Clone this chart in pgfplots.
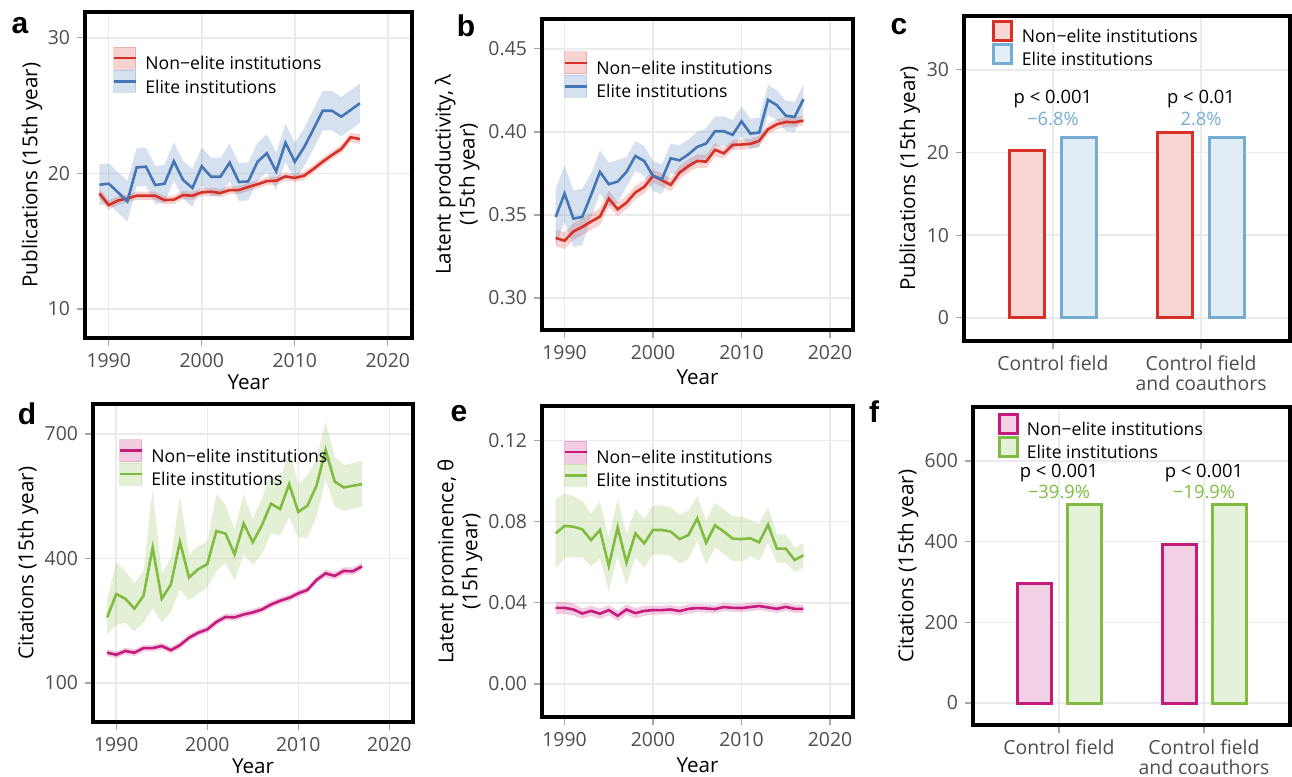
\documentclass[border=0pt]{standalone}
\usepackage{fontspec}
\setmainfont{Open Sans}
\newfontfamily\letterfont{Liberation Sans}
\usepackage{pgfplots}
\usepackage{pgfplotstable}
\pgfplotsset{compat=1.18}
\usepgfplotslibrary{fillbetween}

\definecolor{redL}{HTML}{D73027}
\definecolor{blueL}{HTML}{4575B4}
\definecolor{blueB}{HTML}{74ADD1}
\definecolor{pinkL}{HTML}{C51B7D}
\definecolor{greenL}{HTML}{7FBC41}
\definecolor{gridc}{HTML}{EBEBEB}
\definecolor{tickc}{HTML}{4D4D4D}

\pgfplotstableread{
yr m lo hi
1989 18.52 18.17 18.87
1990 17.66 17.31 18.01
1991 18.00 17.68 18.32
1992 18.15 17.85 18.45
1993 18.35 18.05 18.65
1994 18.35 18.05 18.65
1995 18.35 18.05 18.65
1996 18.03 17.73 18.33
1997 18.06 17.76 18.36
1998 18.40 18.10 18.70
1999 18.35 18.05 18.65
2000 18.60 18.30 18.90
2001 18.65 18.35 18.95
2002 18.55 18.25 18.85
2003 18.77 18.47 19.07
2004 18.77 18.47 19.07
2005 19.00 18.70 19.30
2006 19.20 18.90 19.50
2007 19.43 19.13 19.73
2008 19.46 19.16 19.76
2009 19.78 19.48 20.08
2010 19.66 19.36 19.96
2011 19.83 19.53 20.13
2012 20.32 20.02 20.62
2013 20.86 20.56 21.16
2014 21.35 21.05 21.65
2015 21.80 21.50 22.10
2016 22.66 22.31 23.01
2017 22.53 22.18 22.88
}\aNon
\pgfplotstableread{
yr m lo hi
1989 19.16 17.66 20.66
1990 19.24 17.74 20.74
1991 18.60 17.10 20.10
1992 17.93 16.43 19.43
1993 20.44 19.04 21.84
1994 20.49 19.09 21.89
1995 19.14 17.74 20.54
1996 19.24 17.84 20.64
1997 20.89 19.49 22.29
1998 19.51 18.11 20.91
1999 18.92 17.52 20.32
2000 20.52 19.12 21.92
2001 19.75 18.35 21.15
2002 19.75 18.35 21.15
2003 20.79 19.39 22.19
2004 19.36 17.96 20.76
2005 19.41 18.01 20.81
2006 20.86 19.46 22.26
2007 21.48 20.08 22.88
2008 20.15 18.75 21.55
2009 22.26 20.86 23.66
2010 20.86 19.46 22.26
2011 21.92 20.52 23.32
2012 23.25 21.80 24.70
2013 24.62 23.17 26.07
2014 24.62 23.17 26.07
2015 24.18 22.73 25.63
2016 24.67 23.22 26.12
2017 25.17 23.72 26.62
}\aEl
\pgfplotstableread{
yr m lo hi
1989 0.3361 0.3311 0.3411
1990 0.3345 0.3295 0.3395
1991 0.3400 0.3350 0.3450
1992 0.3428 0.3378 0.3478
1993 0.3460 0.3410 0.3510
1994 0.3490 0.3440 0.3540
1995 0.3598 0.3548 0.3648
1996 0.3534 0.3494 0.3574
1997 0.3574 0.3534 0.3614
1998 0.3635 0.3595 0.3675
1999 0.3669 0.3629 0.3709
2000 0.3735 0.3695 0.3775
2001 0.3709 0.3669 0.3749
2002 0.3681 0.3641 0.3721
2003 0.3755 0.3715 0.3795
2004 0.3795 0.3755 0.3835
2005 0.3825 0.3785 0.3865
2006 0.3821 0.3781 0.3861
2007 0.3892 0.3852 0.3932
2008 0.3871 0.3841 0.3901
2009 0.3922 0.3892 0.3952
2010 0.3924 0.3894 0.3954
2011 0.3928 0.3898 0.3958
2012 0.3946 0.3916 0.3976
2013 0.4016 0.3986 0.4046
2014 0.4046 0.4016 0.4076
2015 0.4060 0.4030 0.4090
2016 0.4058 0.4028 0.4088
2017 0.4068 0.4038 0.4098
}\bNon
\pgfplotstableread{
yr m lo hi
1989 0.3488 0.3318 0.3658
1990 0.3629 0.3459 0.3799
1991 0.3478 0.3308 0.3648
1992 0.3488 0.3318 0.3658
1993 0.3620 0.3490 0.3750
1994 0.3759 0.3629 0.3889
1995 0.3685 0.3555 0.3815
1996 0.3701 0.3571 0.3831
1997 0.3759 0.3669 0.3849
1998 0.3855 0.3765 0.3945
1999 0.3825 0.3735 0.3915
2000 0.3735 0.3645 0.3825
2001 0.3715 0.3625 0.3805
2002 0.3841 0.3751 0.3931
2003 0.3829 0.3739 0.3919
2004 0.3865 0.3775 0.3955
2005 0.3910 0.3820 0.4000
2006 0.3930 0.3840 0.4020
2007 0.4004 0.3914 0.4094
2008 0.4004 0.3914 0.4094
2009 0.3982 0.3892 0.4072
2010 0.4064 0.3974 0.4154
2011 0.3990 0.3900 0.4080
2012 0.3996 0.3906 0.4086
2013 0.4193 0.4103 0.4283
2014 0.4161 0.4071 0.4251
2015 0.4098 0.4008 0.4188
2016 0.4090 0.4000 0.4180
2017 0.4197 0.4107 0.4287
}\bEl
\pgfplotstableread{
yr m lo hi
1989 173 165 181
1990 168 160 176
1991 177 169 185
1992 173 165 181
1993 184 176 192
1994 184 176 192
1995 189 181 197
1996 179 171 187
1997 191 183 199
1998 209 201 217
1999 221 213 229
2000 229 221 237
2001 247 239 255
2002 259 251 267
2003 258 250 266
2004 265 257 273
2005 270 262 278
2006 277 269 285
2007 289 281 297
2008 298 290 306
2009 305 297 313
2010 316 308 324
2011 324 316 332
2012 348 340 356
2013 364 355 373
2014 358 349 367
2015 370 361 379
2016 369 360 378
2017 381 372 390
}\dNon
\pgfplotstableread{
yr m lo hi
1989 258 218 300
1990 314 240 390
1991 303 245 370
1992 279 225 340
1993 310 245 370
1994 426 280 565
1995 303 245 365
1996 337 270 400
1997 440 325 550
1998 354 300 410
1999 374 315 430
2000 386 330 440
2001 466 370 555
2002 460 390 530
2003 410 345 470
2004 484 410 555
2005 439 385 495
2006 480 410 545
2007 532 460 600
2008 519 455 590
2009 579 500 660
2010 512 450 580
2011 527 450 600
2012 575 500 640
2013 661 590 730
2014 585 525 645
2015 571 515 625
2016 575 520 630
2017 579 525 635
}\dEl
\pgfplotstableread{
yr m lo hi
1989 0.0375 0.0345 0.0405
1990 0.0375 0.0345 0.0405
1991 0.0367 0.0337 0.0397
1992 0.0347 0.0322 0.0372
1993 0.0360 0.0335 0.0385
1994 0.0346 0.0321 0.0371
1995 0.0364 0.0339 0.0389
1996 0.0336 0.0311 0.0361
1997 0.0367 0.0342 0.0392
1998 0.0349 0.0324 0.0374
1999 0.0360 0.0335 0.0385
2000 0.0364 0.0342 0.0386
2001 0.0364 0.0342 0.0386
2002 0.0367 0.0345 0.0389
2003 0.0359 0.0337 0.0381
2004 0.0370 0.0348 0.0392
2005 0.0374 0.0354 0.0394
2006 0.0372 0.0352 0.0392
2007 0.0369 0.0349 0.0389
2008 0.0379 0.0359 0.0399
2009 0.0375 0.0355 0.0395
2010 0.0374 0.0354 0.0394
2011 0.0379 0.0359 0.0399
2012 0.0384 0.0364 0.0404
2013 0.0377 0.0357 0.0397
2014 0.0370 0.0350 0.0390
2015 0.0380 0.0360 0.0400
2016 0.0370 0.0350 0.0390
2017 0.0370 0.0350 0.0390
}\eNon
\pgfplotstableread{
yr m lo hi
1989 0.0742 0.0572 0.0912
1990 0.0779 0.0619 0.0939
1991 0.0775 0.0625 0.0925
1992 0.0762 0.0622 0.0902
1993 0.0709 0.0579 0.0839
1994 0.0759 0.0619 0.0899
1995 0.0581 0.0456 0.0721
1996 0.0772 0.0632 0.0912
1997 0.0598 0.0488 0.0738
1998 0.0742 0.0622 0.0862
1999 0.0693 0.0573 0.0813
2000 0.0759 0.0639 0.0879
2001 0.0759 0.0639 0.0879
2002 0.0751 0.0631 0.0871
2003 0.0714 0.0594 0.0834
2004 0.0734 0.0614 0.0854
2005 0.0816 0.0706 0.0926
2006 0.0696 0.0586 0.0806
2007 0.0782 0.0672 0.0892
2008 0.0751 0.0641 0.0861
2009 0.0716 0.0606 0.0826
2010 0.0714 0.0604 0.0824
2011 0.0718 0.0628 0.0808
2012 0.0698 0.0608 0.0788
2013 0.0785 0.0695 0.0875
2014 0.0667 0.0597 0.0737
2015 0.0667 0.0597 0.0737
2016 0.0611 0.0551 0.0671
2017 0.0634 0.0574 0.0694
}\eEl

\pgfplotsset{
  panel/.style={
    scale only axis, anchor=south west,
    axis line style={line width=2pt, black},
    tick pos=left, tick align=outside, major tick length=4pt,
    tick style={color=black!35, line width=0.6pt},
    grid=major, major grid style={color=gridc, line width=0.75pt},
    /pgf/number format/assume math mode=true,
    ticklabel style={font=\fontsize{9.7}{11}\selectfont, text=tickc},
    label style={font=\fontsize{10.3}{12}\selectfont, text=black},
    legend cell align=left,
    legend style={draw=none, fill=none, inner sep=0pt, row sep=-1.3pt,
      font=\fontsize{8.8}{10}\selectfont, nodes={inner sep=0pt},
      /tikz/every odd column/.append style={column sep=4.2pt}},
  },
  linepanel/.style={panel, xmin=1987.45, xmax=2022.6,
    xtick={1990,2000,2010,2020},
    xticklabel style={/pgf/number format/1000 sep={}},
    xlabel={Year}},
  barpanel/.style={panel, xtick={1,2},
    xticklabels={Control field, {Control field\\and coauthors}},
    xticklabel style={align=center, font=\fontsize{9.7}{10}\selectfont}},
  bandkey/.style={legend image code/.code={
      \fill[#1, opacity=0.22] (0pt,-2.3pt) rectangle (11pt,8.7pt);
      \draw[#1, line width=1.3pt] (0pt,3.2pt) -- (11pt,3.2pt);}},
  barkey/.style={legend image code/.code={
      \draw[#1, fill=#1!20, line width=1.5pt] (0.75pt,-1.6pt) rectangle (9.75pt,7.9pt);}},
}

\begin{document}
\begin{tikzpicture}

% ---------- a ----------
\begin{axis}[linepanel, at={(42.5pt,-169pt)}, width=163.5pt, height=163pt,
  ymin=7.86, ymax=31.9, ytick={10,20,30},
  ylabel={Publications (15th year)},
  ylabel style={at={(axis description cs:-0.162,0.5)}, anchor=center},
  xlabel style={at={(axis description cs:0.5,-0.135)}, anchor=center},
  legend style={at={(0.0826,0.895)}, anchor=north west}]
\addlegendimage{bandkey=redL}\addlegendentry{Non−elite institutions}
\addlegendimage{bandkey=blueL}\addlegendentry{Elite institutions}
\addplot[name path=aNh, draw=none, forget plot] table[x=yr, y=hi] {\aNon};
\addplot[name path=aNl, draw=none, forget plot] table[x=yr, y=lo] {\aNon};
\addplot[fill=redL, fill opacity=0.22, draw=none, forget plot] fill between[of=aNh and aNl];
\addplot[name path=aEh, draw=none, forget plot] table[x=yr, y=hi] {\aEl};
\addplot[name path=aEl, draw=none, forget plot] table[x=yr, y=lo] {\aEl};
\addplot[fill=blueL, fill opacity=0.22, draw=none, forget plot] fill between[of=aEh and aEl];
\addplot[redL, line width=1.3pt, forget plot] table[x=yr, y=m] {\aNon};
\addplot[blueL, line width=1.3pt, forget plot] table[x=yr, y=m] {\aEl};
\end{axis}

% ---------- b ----------
\begin{axis}[linepanel, at={(271pt,-165pt)}, width=155.5pt, height=155.5pt,
  ymin=0.2807, ymax=0.468, ytick={0.30,0.35,0.40,0.45},
  yticklabel style={/pgf/number format/.cd, fixed, fixed zerofill, precision=2},
  ylabel={Latent productivity, λ\\(15th year)},
  ylabel style={at={(axis description cs:-0.273,0.5)}, anchor=center, align=center},
  xlabel style={at={(axis description cs:0.5,-0.151)}, anchor=center},
  legend style={at={(0.0675,0.897)}, anchor=north west}]
\addlegendimage{bandkey=redL}\addlegendentry{Non−elite institutions}
\addlegendimage{bandkey=blueL}\addlegendentry{Elite institutions}
\addplot[name path=bNh, draw=none, forget plot] table[x=yr, y=hi] {\bNon};
\addplot[name path=bNl, draw=none, forget plot] table[x=yr, y=lo] {\bNon};
\addplot[fill=redL, fill opacity=0.22, draw=none, forget plot] fill between[of=bNh and bNl];
\addplot[name path=bEh, draw=none, forget plot] table[x=yr, y=hi] {\bEl};
\addplot[name path=bEl, draw=none, forget plot] table[x=yr, y=lo] {\bEl};
\addplot[fill=blueL, fill opacity=0.22, draw=none, forget plot] fill between[of=bEh and bEl];
\addplot[redL, line width=1.3pt, forget plot] table[x=yr, y=m] {\bNon};
\addplot[blueL, line width=1.3pt, forget plot] table[x=yr, y=m] {\bEl};
\end{axis}

% ---------- c ----------
\begin{axis}[barpanel, at={(482pt,-170.5pt)}, width=163pt, height=162.5pt,
  xmin=0.4, xmax=2.6, ymin=-2.8, ymax=36.5,
  ytick={0,10,20,30},
  ylabel={Publications (15th year)},
  ylabel style={at={(axis description cs:-0.166,0.5)}, anchor=center},
  legend style={at={(0.086,0.990)}, anchor=north west}]
\addlegendimage{barkey=redL}\addlegendentry{Non−elite institutions}
\addlegendimage{barkey=blueB}\addlegendentry{Elite institutions}
\addplot[ybar, bar width=17.5pt, bar shift=-13pt, draw=redL, fill=redL!20, line width=1.5pt, forget plot]
  coordinates {(1,20.2) (2,22.4)};
\addplot[ybar, bar width=17.5pt, bar shift=13pt, draw=blueB, fill=blueB!22, line width=1.5pt, forget plot]
  coordinates {(1,21.8) (2,21.8)};
\node[font=\fontsize{9.2}{10}\selectfont] at (axis cs:1,26.4) {p < 0.001};
\node[font=\fontsize{9.2}{10}\selectfont, text=blueB] at (axis cs:1,24.1) {−6.8\%};
\node[font=\fontsize{9.2}{10}\selectfont] at (axis cs:2,26.4) {p < 0.01};
\node[font=\fontsize{9.2}{10}\selectfont, text=blueB] at (axis cs:2,24.1) {2.8\%};
\end{axis}

% ---------- d ----------
\begin{axis}[linepanel, at={(46.5pt,-361pt)}, width=160pt, height=159pt,
  ymin=6, ymax=772, ytick={100,400,700},
  ylabel={Citations (15th year)},
  ylabel style={at={(axis description cs:-0.203,0.5)}, anchor=center},
  xlabel style={at={(axis description cs:0.5,-0.140)}, anchor=center},
  legend style={at={(0.078,0.890)}, anchor=north west}]
\addlegendimage{bandkey=pinkL}\addlegendentry{Non−elite institutions}
\addlegendimage{bandkey=greenL}\addlegendentry{Elite institutions}
\addplot[name path=dNh, draw=none, forget plot] table[x=yr, y=hi] {\dNon};
\addplot[name path=dNl, draw=none, forget plot] table[x=yr, y=lo] {\dNon};
\addplot[fill=pinkL, fill opacity=0.22, draw=none, forget plot] fill between[of=dNh and dNl];
\addplot[name path=dEh, draw=none, forget plot] table[x=yr, y=hi] {\dEl};
\addplot[name path=dEl, draw=none, forget plot] table[x=yr, y=lo] {\dEl};
\addplot[fill=greenL, fill opacity=0.22, draw=none, forget plot] fill between[of=dEh and dEl];
\addplot[pinkL, line width=1.3pt, forget plot] table[x=yr, y=m] {\dNon};
\addplot[greenL, line width=1.3pt, forget plot] table[x=yr, y=m] {\dEl};
\end{axis}

% ---------- e ----------
\begin{axis}[linepanel, at={(271pt,-358.5pt)}, width=155.5pt, height=155.5pt,
  ymin=-0.0163, ymax=0.137, ytick={0,0.04,0.08,0.12},
  yticklabel style={/pgf/number format/.cd, fixed, fixed zerofill, precision=2},
  ylabel={Latent prominence, θ\\(15h year)},
  ylabel style={at={(axis description cs:-0.264,0.5)}, anchor=center, align=center},
  xlabel style={at={(axis description cs:0.5,-0.155)}, anchor=center},
  legend style={at={(0.0675,0.890)}, anchor=north west}]
\addlegendimage{bandkey=pinkL}\addlegendentry{Non−elite institutions}
\addlegendimage{bandkey=greenL}\addlegendentry{Elite institutions}
\addplot[name path=eNh, draw=none, forget plot] table[x=yr, y=hi] {\eNon};
\addplot[name path=eNl, draw=none, forget plot] table[x=yr, y=lo] {\eNon};
\addplot[fill=pinkL, fill opacity=0.22, draw=none, forget plot] fill between[of=eNh and eNl];
\addplot[name path=eEh, draw=none, forget plot] table[x=yr, y=hi] {\eEl};
\addplot[name path=eEl, draw=none, forget plot] table[x=yr, y=lo] {\eEl};
\addplot[fill=greenL, fill opacity=0.22, draw=none, forget plot] fill between[of=eEh and eEl];
\addplot[pinkL, line width=1.3pt, forget plot] table[x=yr, y=m] {\eNon};
\addplot[greenL, line width=1.3pt, forget plot] table[x=yr, y=m] {\eEl};
\end{axis}

% ---------- f ----------
\begin{axis}[barpanel, at={(486.5pt,-362.5pt)}, width=158.5pt, height=159pt,
  xmin=0.407, xmax=2.593, ymin=-54.5, ymax=734,
  ytick={0,200,400,600},
  ylabel={Citations (15th year)},
  ylabel style={at={(axis description cs:-0.205,0.5)}, anchor=center},
  legend style={at={(0.076,0.983)}, anchor=north west}]
\addlegendimage{barkey=pinkL}\addlegendentry{Non−elite institutions}
\addlegendimage{barkey=greenL}\addlegendentry{Elite institutions}
\addplot[ybar, bar width=17pt, bar shift=-12.5pt, draw=pinkL, fill=pinkL!20, line width=1.5pt, forget plot]
  coordinates {(1,297) (2,394)};
\addplot[ybar, bar width=17pt, bar shift=12.5pt, draw=greenL, fill=greenL!20, line width=1.5pt, forget plot]
  coordinates {(1,493) (2,493)};
\node[font=\fontsize{9.2}{10}\selectfont] at (axis cs:1,570) {p < 0.001};
\node[font=\fontsize{9.2}{10}\selectfont, text=greenL] at (axis cs:1,523) {−39.9\%};
\node[font=\fontsize{9.2}{10}\selectfont] at (axis cs:2,570) {p < 0.001};
\node[font=\fontsize{9.2}{10}\selectfont, text=greenL] at (axis cs:2,523) {−19.9\%};
\end{axis}

% panel letters
\begin{scope}[every node/.style={font=\letterfont\bfseries\fontsize{15}{16}\selectfont, anchor=center}]
\node at (10pt,-13pt) {a};
\node at (233pt,-13pt) {b};
\node at (449.5pt,-13.5pt) {c};
\node at (13.5pt,-207pt) {d};
\node at (229.5pt,-207pt) {e};
\node at (437pt,-206pt) {f};
\end{scope}
\pgfresetboundingbox
\useasboundingbox (0pt,0pt) rectangle (646pt,-388.5pt);
\end{tikzpicture}
\end{document}
